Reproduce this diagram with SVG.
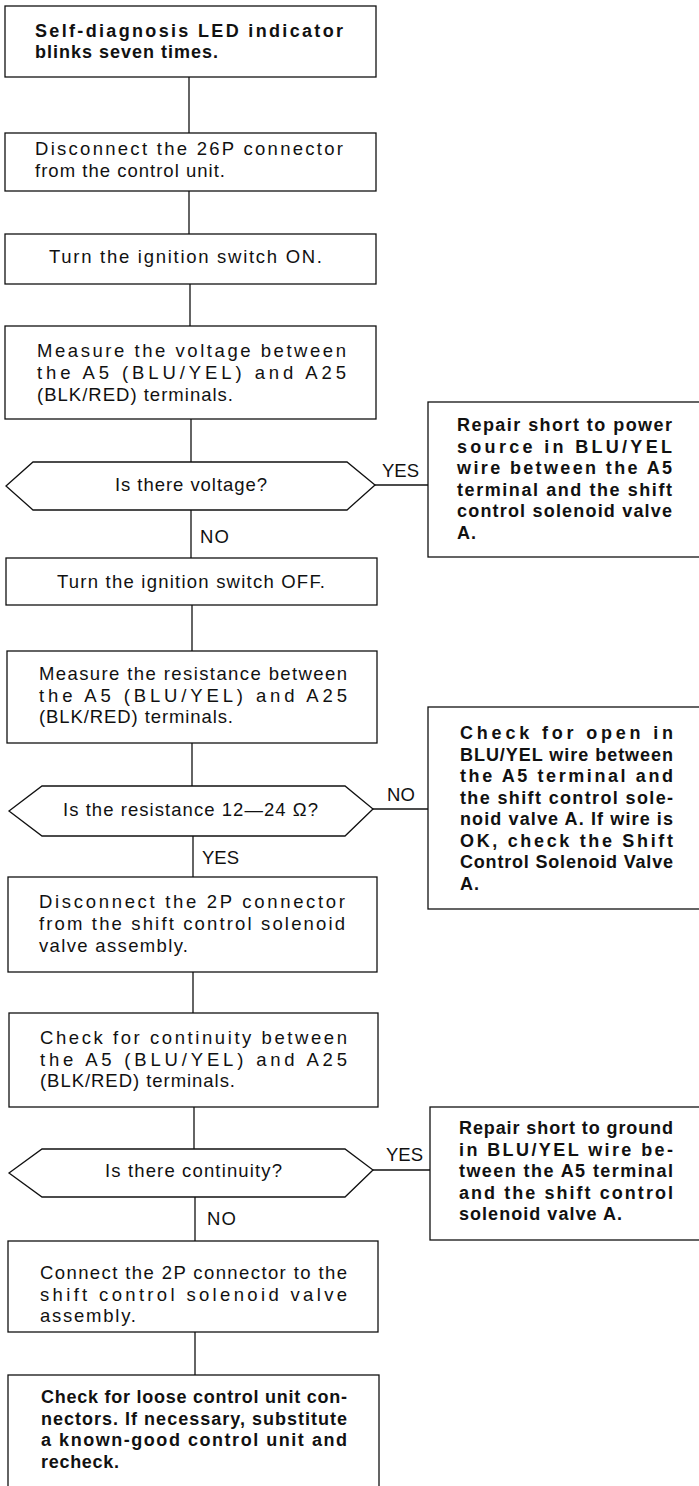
<svg xmlns="http://www.w3.org/2000/svg" width="699" height="1486" viewBox="0 0 699 1486">
<style>
  .box { fill: #ffffff; stroke: #111111; stroke-width: 1.3; }
  .edge { stroke: #111111; stroke-width: 1.3; fill: none; }
  text { font-family: "Liberation Sans", Arial, sans-serif; font-size: 18.5px; fill: #111111; }
  .b { font-weight: bold; font-size: 18px; }
</style>
<rect x="0" y="0" width="699" height="1486" fill="#ffffff"/>

<g id="connectors">
  <line class="edge" x1="189" y1="77" x2="189" y2="133"/>
  <line class="edge" x1="189" y1="191" x2="189" y2="234"/>
  <line class="edge" x1="190" y1="284" x2="190" y2="326"/>
  <line class="edge" x1="191" y1="419" x2="191" y2="462"/>
  <line class="edge" x1="191" y1="510" x2="191" y2="558"/>
  <line class="edge" x1="192" y1="605" x2="192" y2="651"/>
  <line class="edge" x1="192" y1="743" x2="192" y2="786"/>
  <line class="edge" x1="193" y1="836" x2="193" y2="877"/>
  <line class="edge" x1="193" y1="972" x2="193" y2="1013"/>
  <line class="edge" x1="194" y1="1107" x2="194" y2="1149"/>
  <line class="edge" x1="195" y1="1197" x2="195" y2="1241"/>
  <line class="edge" x1="195" y1="1332" x2="195" y2="1375"/>
  <line class="edge" x1="375" y1="485" x2="428" y2="485"/>
  <line class="edge" x1="373" y1="809" x2="428" y2="809"/>
  <line class="edge" x1="373" y1="1170" x2="430" y2="1170"/>
  <text x="382" y="477" textLength="37">YES</text>
  <text x="200" y="543" textLength="29">NO</text>
  <text x="387" y="801" textLength="28">NO</text>
  <text x="202" y="864" textLength="37">YES</text>
  <text x="386" y="1161" textLength="37">YES</text>
  <text x="207" y="1225" textLength="29">NO</text>
</g>

<g id="n1">
  <rect class="box" x="5" y="6" width="371" height="71"/>
  <text class="b" x="35" y="37" textLength="308">Self-diagnosis LED indicator</text>
  <text class="b" x="35" y="58" textLength="183">blinks seven times.</text>
</g>

<g id="n2">
  <rect class="box" x="5" y="133" width="371" height="58"/>
  <text x="35" y="155" textLength="308">Disconnect the 26P connector</text>
  <text x="35" y="177" textLength="190">from the control unit.</text>
</g>

<g id="n3">
  <rect class="box" x="5" y="234" width="371" height="50"/>
  <text x="49" y="263" textLength="273">Turn the ignition switch ON.</text>
</g>

<g id="n4">
  <rect class="box" x="5" y="326" width="371" height="93"/>
  <text x="37" y="357" textLength="309">Measure the voltage between</text>
  <text x="37" y="379" textLength="309">the A5 (BLU/YEL) and A25</text>
  <text x="37" y="401" textLength="196">(BLK/RED) terminals.</text>
</g>

<g id="d1">
  <polygon class="box" points="6,486 33,462 347,462 375,485 347,510 33,510"/>
  <text x="115" y="491" textLength="152">Is there voltage?</text>
</g>

<g id="r1">
  <rect class="box" x="428" y="402" width="272" height="155"/>
  <text class="b" x="457" y="431" textLength="215">Repair short to power</text>
  <text class="b" x="457" y="452.5" textLength="215">source in BLU/YEL</text>
  <text class="b" x="457" y="474" textLength="215">wire between the A5</text>
  <text class="b" x="457" y="495.5" textLength="215">terminal and the shift</text>
  <text class="b" x="457" y="517" textLength="215">control solenoid valve</text>
  <text class="b" x="457" y="538.5" textLength="19">A.</text>
</g>

<g id="n5">
  <rect class="box" x="6" y="558" width="371" height="47"/>
  <text x="57" y="588" textLength="268">Turn the ignition switch OFF.</text>
</g>

<g id="n6">
  <rect class="box" x="7" y="651" width="370" height="92"/>
  <text x="39" y="680" textLength="308">Measure the resistance between</text>
  <text x="39" y="701.5" textLength="308">the A5 (BLU/YEL) and A25</text>
  <text x="39" y="723" textLength="194">(BLK/RED) terminals.</text>
</g>

<g id="d2">
  <polygon class="box" points="9,811 42,786 345,786 373,809 345,836 42,836"/>
  <text x="63" y="816" textLength="255">Is the resistance 12—24 Ω?</text>
</g>

<g id="r2">
  <rect class="box" x="428" y="707" width="272" height="202"/>
  <text class="b" x="460" y="739" textLength="213">Check for open in</text>
  <text class="b" x="460" y="760.5" textLength="213">BLU/YEL wire between</text>
  <text class="b" x="460" y="782" textLength="213">the A5 terminal and</text>
  <text class="b" x="460" y="803.5" textLength="213">the shift control sole-</text>
  <text class="b" x="460" y="825" textLength="213">noid valve A. If wire is</text>
  <text class="b" x="460" y="846.5" textLength="213">OK, check the Shift</text>
  <text class="b" x="460" y="868" textLength="213">Control Solenoid Valve</text>
  <text class="b" x="460" y="889.5" textLength="19">A.</text>
</g>

<g id="n7">
  <rect class="box" x="8" y="877" width="369" height="95"/>
  <text x="39" y="908" textLength="306">Disconnect the 2P connector</text>
  <text x="39" y="930" textLength="306">from the shift control solenoid</text>
  <text x="39" y="952" textLength="149">valve assembly.</text>
</g>

<g id="n8">
  <rect class="box" x="9" y="1013" width="369" height="94"/>
  <text x="40" y="1044" textLength="307">Check for continuity between</text>
  <text x="40" y="1065.5" textLength="307">the A5 (BLU/YEL) and A25</text>
  <text x="40" y="1087" textLength="195">(BLK/RED) terminals.</text>
</g>

<g id="d3">
  <polygon class="box" points="9,1173 42,1149 345,1149 373,1170 345,1197 42,1197"/>
  <text x="105" y="1177" textLength="177">Is there continuity?</text>
</g>

<g id="r3">
  <rect class="box" x="430" y="1107" width="270" height="133"/>
  <text class="b" x="459" y="1134" textLength="214">Repair short to ground</text>
  <text class="b" x="459" y="1155.5" textLength="214">in BLU/YEL wire be-</text>
  <text class="b" x="459" y="1177" textLength="214">tween the A5 terminal</text>
  <text class="b" x="459" y="1198.5" textLength="214">and the shift control</text>
  <text class="b" x="459" y="1220" textLength="163">solenoid valve A.</text>
</g>

<g id="n9">
  <rect class="box" x="8" y="1241" width="370" height="91"/>
  <text x="40" y="1279" textLength="307">Connect the 2P connector to the</text>
  <text x="40" y="1300.5" textLength="307">shift control solenoid valve</text>
  <text x="40" y="1322" textLength="96">assembly.</text>
</g>

<g id="n10">
  <rect class="box" x="8" y="1375" width="371" height="120"/>
  <text class="b" x="41" y="1403" textLength="306">Check for loose control unit con-</text>
  <text class="b" x="41" y="1424.5" textLength="306">nectors. If necessary, substitute</text>
  <text class="b" x="41" y="1446" textLength="306">a known-good control unit and</text>
  <text class="b" x="41" y="1467.5" textLength="78">recheck.</text>
</g>
</svg>
